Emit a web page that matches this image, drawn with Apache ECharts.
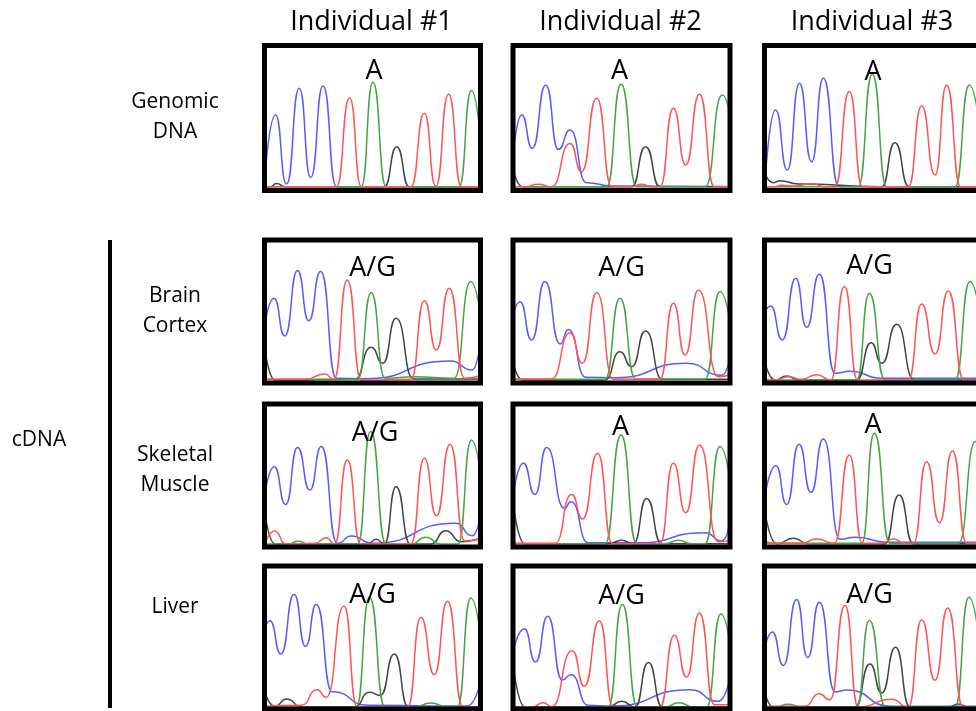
<!DOCTYPE html>
<html><head><meta charset="utf-8">
<script src="https://cdn.jsdelivr.net/npm/echarts@6/dist/echarts.min.js"></script>
<style>html,body{margin:0;padding:0;background:#fff}#c{width:976px;height:711px}</style>
</head><body><div id="c"></div>
<script>
// ---- labels ----
const columns = ["Individual #1", "Individual #2", "Individual #3"];
const rows = ["Genomic\nDNA", "Brain\nCortex", "Skeletal\nMuscle", "Liver"];
const groupLabel = "cDNA";
const calls = [["A", "A", "A"], ["A/G", "A/G", "A/G"], ["A/G", "A", "A"], ["A/G", "A/G", "A/G"]];

// ---- chromatogram traces: peak / trough vertices ----
// [x, y] in percent of panel width / height, per row then per column
const traceC = [ // blue
 [
  [[-0.2,2.6],[5.1,52.1],[10.2,4.5],[16.1,70.5],[21.4,8.9],[27.1,72.1],[33.3,2.6],[103,2.6]],
  [[-0.9,9.5],[4.0,52.1],[8.9,29.1],[15.1,72.8],[20.9,28.4],[26.3,41.7],[33.9,5.4],[45.5,3.1],[103.8,2.6]],
  [[0.2,5.0],[5.1,55.5],[10.5,14.1],[16.1,73.9],[21.7,19.9],[27.1,77.4],[34.3,2.6],[103,2.6]]
 ],
 [
  [[-0.7,32.4],[4.4,59.2],[9.4,32.9],[15.3,78.6],[20.5,43.6],[26.0,77.9],[33.3,3.3],[46.3,3.0],[86.2,15.4],[96.2,9.1],[101.6,48.7]],
  [[-1.4,37.1],[3.2,56.9],[8.6,30.1],[14.7,70.9],[21.7,27.3],[25.5,37.5],[33.5,4.0],[47.0,3.7],[80.0,13.8],[96.2,5.4],[102.3,37.1]],
  [[-2.1,37.1],[2.8,53.9],[8.2,30.1],[14.4,73.2],[19.4,38.9],[25.3,76.0],[32.5,6.8],[39.4,8.2],[54.0,3.3],[103,3.3]]
 ],
 [
  [[-0.4,31.7],[4.5,56.2],[9.8,29.8],[15.3,69.5],[21.0,39.9],[26.3,70.2],[33.7,2.6],[40.2,7.7],[50.0,2.6],[88.6,16.6],[96.2,7.9],[101.6,36.4]],
  [[-0.6,29.4],[4.8,58.5],[10.1,36.8],[15.5,69.5],[23.7,27.1],[26.7,31.7],[34.7,3.0],[57.8,3.0],[88.5,10.0],[96.2,4.2],[102.3,36.4]],
  [[-0.5,29.4],[5.3,56.9],[10.2,29.8],[15.9,71.8],[21.4,38.2],[27.1,75.5],[34.8,5.4],[41.7,6.8],[57.1,3.3],[103,3.3]]
 ],
 [
  [[-1.3,47.3],[2.5,61.8],[7.6,38.5],[13.7,80.0],[19.0,43.8],[24.0,73.0],[31.3,12.0],[47.9,2.6],[93.9,2.1],[103.1,40.3]],
  [[-0.6,35.7],[5.2,56.2],[10.4,32.9],[16.0,64.8],[22.7,20.3],[26.7,24.0],[34.7,2.6],[45.5,2.1],[81.6,13.5],[94.6,5.4],[102.3,38.0]],
  [[-0.5,38.0],[3.6,53.9],[8.7,30.5],[14.8,76.5],[19.9,36.1],[25.3,74.6],[32.5,11.9],[37.9,13.3],[58.6,1.9],[103,1.9]]
 ]
];
const traceT = [ // red
 [
  [[-2,2.6],[33.3,2.6],[39.4,64.0],[44.8,2.6],[67.8,2.6],[74.0,53.2],[79.3,3.1],[85.2,66.3],[91.2,2.6],[103,2.6]],
  [[-2,2.6],[5.5,2.6],[11.7,4.3],[17.8,2.6],[26.3,32.5],[31.6,13.0],[38.6,63.6],[45.5,2.6],[54.7,2.6],[59.3,4.3],[63.9,2.6],[67.7,2.6],[73.9,56.7],[79.6,17.6],[85.9,66.3],[92.8,2.6],[103.8,2.6]],
  [[-2,2.6],[4.8,2.6],[7.9,3.6],[14.1,3.1],[21.7,4.7],[27.9,2.6],[32.5,2.6],[39.1,68.2],[45.1,2.6],[66.3,2.6],[72.4,58.3],[78.6,10.7],[83.9,72.8],[90.4,2.6],[103,2.6]]
 ],
 [
  [[-2,2.6],[18.7,2.6],[27.9,6.3],[32.2,2.6],[38.3,72.0],[44.8,2.1],[67.8,2.6],[74.0,57.6],[79.6,23.1],[85.5,66.2],[92.7,3.3],[103,6.8]],
  [[-2,2.8],[17.8,2.8],[26.3,35.2],[32.0,13.8],[38.6,63.2],[46.2,2.6],[67.7,2.6],[73.9,55.7],[79.3,19.6],[85.4,65.0],[94.6,4.4],[103.8,7.9]],
  [[-2,2.1],[4.8,2.1],[11.0,4.4],[17.1,2.6],[24.0,5.8],[30.6,2.1],[36.8,67.4],[42.9,2.1],[66.3,2.1],[72.4,55.3],[78.6,20.3],[84.7,64.3],[91.9,2.1],[103,2.1]]
 ],
 [
  [[0.2,2.6],[4.8,11.2],[9.8,2.1],[23.3,2.6],[28.6,6.5],[32.5,2.1],[38.3,60.8],[44.5,2.1],[67.8,2.1],[74.0,62.0],[79.6,21.9],[85.9,71.8],[92.7,4.2],[103,7.2]],
  [[-2,2.6],[19.4,2.6],[27.0,36.8],[32.1,19.6],[39.0,65.5],[45.8,2.3],[67.7,2.3],[73.9,58.5],[79.6,24.0],[85.9,71.3],[94.6,3.7],[103.8,6.1]],
  [[-2,2.6],[17.1,2.6],[24.0,5.6],[32.2,2.6],[39.1,64.3],[45.1,2.6],[54.0,2.6],[59.4,5.6],[64.7,2.6],[68.6,2.6],[74.7,59.7],[80.6,17.0],[86.6,67.1],[93.2,2.6],[103,2.6]]
 ],
 [
  [[-2,1.9],[17.1,2.6],[24.3,13.5],[28.6,8.2],[36.8,71.8],[42.9,1.4],[66.3,1.4],[72.4,64.1],[78.6,24.0],[84.7,75.3],[91.9,1.4],[103,1.4]],
  [[-2,1.4],[8.6,1.4],[14.0,4.4],[17.8,1.6],[27.3,40.8],[32.9,15.9],[39.8,61.8],[46.2,1.4],[67.7,1.4],[74.3,51.5],[80.0,22.4],[85.9,67.1],[92.8,3.0],[103.8,3.0]],
  [[-2,1.9],[18.7,1.9],[25.1,10.7],[30.2,6.5],[37.1,72.3],[43.2,1.4],[58.6,6.8],[66.3,1.4],[72.4,62.5],[78.6,20.1],[84.4,70.6],[91.6,1.4],[103,1.4]]
 ]
];
const traceA = [ // green
 [
  [[-2,2.6],[44.8,2.6],[50.2,74.6],[56.3,2.6],[90.1,2.6],[95.8,68.9],[101.6,2.6]],
  [[-2,2.6],[43.2,2.6],[49.8,73.2],[57.0,2.6],[88.5,2.6],[96.5,65.9],[103.8,2.6]],
  [[-2,2.6],[43.2,2.6],[49.7,80.1],[56.3,2.6],[87.8,2.6],[94.4,72.8],[101.6,2.6]]
 ],
 [
  [[-2,2.6],[43.2,2.6],[49.4,63.2],[55.8,3.3],[69.4,4.4],[87.8,3.3],[95.5,70.9],[103,2.6]],
  [[-2,2.6],[42.4,2.6],[49.3,59.2],[56.5,2.8],[88.5,2.8],[95.4,63.9],[103.1,2.6]],
  [[-2,2.1],[42.5,2.1],[48.3,62.7],[55.5,2.1],[87.8,2.1],[94.7,70.9],[102.4,2.1]]
 ],
 [
  [[-2,2.1],[11.0,2.1],[15.6,4.0],[20.2,2.1],[43.2,2.1],[49.1,80.7],[56.3,2.1],[67.8,2.1],[74.7,6.8],[81.6,2.1],[89.6,2.1],[95.8,74.8],[103,2.1]],
  [[-2,2.3],[42.4,2.3],[49.8,78.3],[57.0,2.3],[70.0,2.3],[76.2,4.7],[82.3,2.3],[88.5,2.3],[95.4,70.2],[103.1,2.3]],
  [[-2,6.1],[4.8,2.6],[44.8,2.6],[50.6,79.5],[57.8,2.6],[89.3,2.6],[97.3,73.7],[104.7,2.6]]
 ],
 [
  [[-2,1.4],[42.5,1.4],[48.6,78.1],[55.8,1.4],[69.4,1.4],[77.0,4.2],[84.7,1.4],[89.3,1.4],[95.5,77.6],[103,1.4]],
  [[-2,1.4],[43.9,1.4],[50.4,73.0],[57.3,1.4],[70.0,1.4],[76.5,4.4],[83.1,1.4],[89.2,1.4],[95.8,66.4],[103.1,1.4]],
  [[-2,1.4],[4.8,1.4],[11.0,3.3],[17.1,1.4],[42.5,1.4],[48.3,62.0],[55.8,1.4],[87.8,1.4],[94.2,78.1],[101.6,1.4]]
 ]
];
const traceG = [ // black
 [
  [[-2,2.6],[2.5,2.6],[5.6,4.8],[9.5,2.6],[55.5,2.6],[61.2,30.2],[67.0,2.6],[103,2.6]],
  [[-0.6,18.7],[4.3,2.6],[54.7,2.6],[61.1,30.2],[67.7,2.6],[103.8,2.6]],
  [[-0.5,14.1],[4.1,5.4],[7.1,6.8],[15.6,4.5],[54.0,2.6],[60.1,33.0],[66.6,2.6],[103,2.6]]
 ],
 [
  [[-0.5,30.1],[4.8,2.1],[41.7,2.6],[49.4,25.0],[54.8,13.8],[60.9,45.2],[69.0,2.8],[103,2.8]],
  [[-0.6,18.4],[4.3,2.1],[42.4,2.1],[49.3,21.9],[54.7,11.4],[61.1,36.4],[68.8,2.6],[103.8,2.6]],
  [[-0.5,18.4],[4.8,2.1],[10.2,4.9],[15.6,2.1],[42.5,2.1],[49.1,28.2],[54.0,13.8],[60.9,41.0],[69.0,2.1],[103,2.1]]
 ],
 [
  [[-1.0,36.4],[4.8,2.1],[47.9,2.1],[51.7,5.4],[55.5,2.1],[60.9,42.2],[67.5,2.1],[77.0,2.1],[83.9,11.4],[90.9,3.7],[103,8.4]],
  [[-0.3,34.0],[5.5,2.3],[43.9,2.3],[50.1,4.7],[55.5,2.3],[61.6,34.0],[68.5,2.3],[103.8,2.3]],
  [[-1.3,38.7],[5.6,2.3],[13.3,6.1],[20.2,2.3],[55.5,2.3],[62.0,36.4],[68.6,2.3],[103,2.3]]
 ],
 [
  [[-0.5,14.7],[4.8,1.9],[10.2,7.0],[17.1,1.6],[41.7,1.6],[48.6,11.7],[53.7,9.6],[60.1,38.5],[66.6,1.4],[103,1.4]],
  [[-0.6,38.0],[5.5,1.4],[43.9,1.4],[50.1,5.4],[56.2,1.4],[62.4,32.6],[68.8,1.4],[103.8,1.4]],
  [[-0.5,14.7],[4.1,1.4],[41.7,1.4],[48.6,31.5],[54.0,11.2],[60.4,43.1],[67.0,1.4],[84.7,1.4],[89.3,3.5],[93.9,1.4],[103,1.4]]
 ]
];

// ---- layout ----
const colLeft = [264.5, 513, 764.5], colW = [216, 217, 217];
const rowTop = [45.5, 240, 404, 566], rowH = [145, 143, 143, 143];
const rowLabelY = [117, 311, 470, 607];
// position of the base-call label inside each panel (pixel offset from panel top-centre)
const callDX = [[1.5, -2, 0], [0, 0, -3.5], [2.5, -1, 0], [0, 0, -3.5]];
const callDY = [[26, 26, 26.5], [28.5, 28, 26.5], [29.5, 23.5, 21], [29.5, 30, 29.5]];
const FONT = '"Open Sans", "DejaVu Sans", sans-serif';

const channels = [
  { data: traceC, color: '#5a5aff' },
  { data: traceG, color: '#454545' },
  { data: traceA, color: '#45a545' },
  { data: traceT, color: '#ff5555' }
];

const grid = [], xAxis = [], yAxis = [], series = [], graphic = [];
const center = { textAlign: 'center', textVerticalAlign: 'middle', align: 'center', verticalAlign: 'middle' };
for (let r = 0; r < rows.length; r++) {
  for (let c = 0; c < columns.length; c++) {
    const idx = r * columns.length + c;
    grid.push({ left: colLeft[c], top: rowTop[r], width: colW[c], height: rowH[r],
      show: false, containLabel: false, outerBoundsMode: 'none' });
    xAxis.push({ gridIndex: idx, type: 'value', min: 0, max: 100, show: false });
    yAxis.push({ gridIndex: idx, type: 'value', min: 0, max: 100, show: false });
    channels.forEach(ch => {
      series.push({ type: 'line', xAxisIndex: idx, yAxisIndex: idx, data: ch.data[r][c],
        smooth: 0.58, smoothMonotone: 'x', showSymbol: false, symbol: 'none', clip: true,
        silent: true, lineStyle: { color: ch.color, width: 1.5 } });
    });
    graphic.push({ type: 'rect', z: 100, silent: true,
      shape: { x: colLeft[c], y: rowTop[r], width: colW[c], height: rowH[r] },
      style: { fill: null, stroke: '#000', lineWidth: 5 } });
    graphic.push({ type: 'text', z: 101, silent: true,
      x: colLeft[c] + colW[c] / 2 + callDX[r][c], y: rowTop[r] + callDY[r][c],
      style: Object.assign({ text: calls[r][c], fill: '#000', font: '27px ' + FONT }, center) });
  }
}
columns.forEach((t, c) => graphic.push({ type: 'text', z: 101, silent: true,
  x: colLeft[c] + colW[c] / 2 - 1, y: 22,
  style: Object.assign({ text: t, fill: '#000', font: '27px ' + FONT }, center) }));
rows.forEach((t, r) => graphic.push({ type: 'text', z: 101, silent: true,
  x: 175, y: rowLabelY[r],
  style: Object.assign({ text: t, fill: '#000', font: '21px ' + FONT, lineHeight: 30 }, center) }));
graphic.push({ type: 'text', z: 101, silent: true, x: 39, y: 440,
  style: Object.assign({ text: groupLabel, fill: '#000', font: '21px ' + FONT }, center) });
graphic.push({ type: 'line', z: 101, silent: true,
  shape: { x1: 110, y1: 240, x2: 110, y2: 708 }, style: { stroke: '#000', lineWidth: 4 } });

const chart = echarts.init(document.getElementById('c'), null, { renderer: 'canvas' });
chart.setOption({ animation: false, backgroundColor: '#fff', grid, xAxis, yAxis, series, graphic });
</script></body></html>
